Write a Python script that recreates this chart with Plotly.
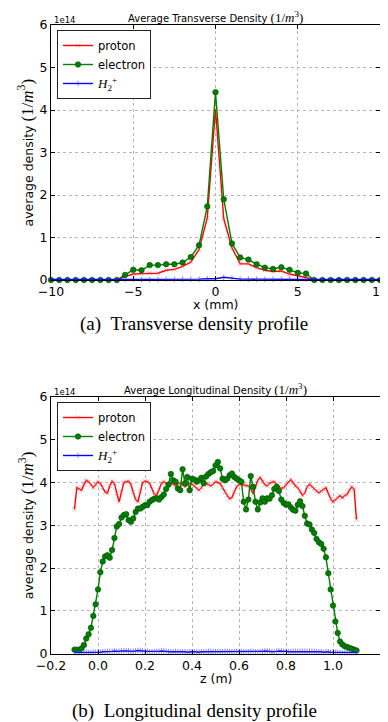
import plotly.graph_objects as go

# ---------------- data (values in units of 1e14 m^-3) ----------------
x_mm = [-10.0, -9.5, -9.0, -8.5, -8.0, -7.5, -7.0, -6.5, -6.0, -5.5, -5.0, -4.5, -4.0, -3.5,
        -3.0, -2.5, -2.0, -1.5, -1.0, -0.5, 0.0, 0.5, 1.0, 1.5, 2.0, 2.5, 3.0, 3.5, 4.0, 4.5,
        5.0, 5.5, 6.0, 6.5, 7.0, 7.5, 8.0, 8.5, 9.0, 9.5, 10.0]
proton_t = [0, 0, 0, 0, 0, 0, 0, 0, 0.0, 0.08, 0.14, 0.15, 0.16, 0.16, 0.23, 0.25, 0.32, 0.42,
            0.72, 1.46, 4.02, 1.44, 0.76, 0.38, 0.38, 0.29, 0.23, 0.20, 0.21, 0.14, 0.10, 0.06,
            0.0, 0, 0, 0, 0, 0, 0, 0, 0]
electron_t = [0, 0, 0, 0, 0, 0, 0, 0, 0.0, 0.12, 0.24, 0.23, 0.35, 0.35, 0.37, 0.37, 0.41, 0.54,
              0.82, 1.73, 4.42, 1.90, 0.86, 0.53, 0.48, 0.37, 0.29, 0.26, 0.30, 0.24, 0.17, 0.15,
              0.0, 0, 0, 0, 0, 0, 0, 0, 0]
h2_t = [0.01, 0.01, 0.01, 0.01, 0.01, 0.01, 0.01, 0.01, 0.01, 0.01, 0.015, 0.01, 0.01, 0.015,
        0.02, 0.015, 0.02, 0.02, 0.02, 0.03, 0.03, 0.065, 0.04, 0.02, 0.02, 0.02, 0.015, 0.02,
        0.02, 0.03, 0.02, 0.015, 0.01, 0.01, 0.01, 0.01, 0.01, 0.01, 0.01, 0.01, 0.01]

z_m = [-0.10, -0.09, -0.08, -0.07, -0.06, -0.05, -0.04, -0.03, -0.02, -0.01,
       0.00, 0.01, 0.02, 0.03, 0.04, 0.05, 0.06, 0.07, 0.08, 0.09,
       0.10, 0.11, 0.12, 0.13, 0.14, 0.15, 0.16, 0.17, 0.18, 0.19,
       0.20, 0.21, 0.22, 0.23, 0.24, 0.25, 0.26, 0.27, 0.28, 0.29,
       0.30, 0.31, 0.32, 0.33, 0.34, 0.35, 0.36, 0.37, 0.38, 0.39,
       0.40, 0.41, 0.42, 0.43, 0.44, 0.45, 0.46, 0.47, 0.48, 0.49,
       0.50, 0.51, 0.52, 0.53, 0.54, 0.55, 0.56, 0.57, 0.58, 0.59,
       0.60, 0.61, 0.62, 0.63, 0.64, 0.65, 0.66, 0.67, 0.68, 0.69,
       0.70, 0.71, 0.72, 0.73, 0.74, 0.75, 0.76, 0.77, 0.78, 0.79,
       0.80, 0.81, 0.82, 0.83, 0.84, 0.85, 0.86, 0.87, 0.88, 0.89,
       0.90, 0.91, 0.92, 0.93, 0.94, 0.95, 0.96, 0.97, 0.98, 0.99,
       1.00, 1.01, 1.02, 1.03, 1.04, 1.05, 1.06, 1.07, 1.08, 1.09, 1.10]
proton_l = [3.38, 3.88, 3.85, 3.82, 3.95, 4.05, 4.02, 3.95, 3.88, 3.95,
            4.02, 3.98, 3.88, 3.78, 3.75, 3.92, 4.03, 3.98, 3.75, 3.55,
            3.78, 4.00, 4.02, 4.03, 3.95, 3.78, 3.60, 3.55, 3.80, 4.00,
            4.03, 4.02, 3.98, 3.85, 3.72, 3.70, 3.82, 3.98, 4.02, 3.98,
            3.95, 3.98, 3.96, 3.92, 3.97, 3.99, 3.95, 3.90, 3.93, 3.98,
            3.96, 3.92, 3.86, 3.82, 3.88, 3.95, 3.98, 3.95, 3.92, 3.96,
            4.02, 4.00, 3.98, 3.88, 3.78, 3.70, 3.62, 3.65, 3.78, 3.90,
            3.95, 3.96, 3.94, 3.93, 3.92, 3.85, 3.74, 3.90, 4.05, 4.12,
            4.02, 3.95, 3.92, 3.98, 4.01, 4.02, 3.96, 3.92, 3.86, 3.88,
            3.95, 4.02, 4.07, 4.00, 3.92, 3.88, 3.80, 3.70, 3.75, 3.90,
            3.96, 3.90, 3.85, 3.80, 3.76, 3.80, 3.84, 3.88, 3.75, 3.62,
            3.54, 3.60, 3.65, 3.69, 3.64, 3.70, 3.72, 3.82, 3.90, 3.84, 3.14]
electron_l = [0.09, 0.09, 0.08, 0.12, 0.20, 0.35, 0.45, 0.60, 0.88, 1.15,
              1.50, 1.90, 2.15, 2.27, 2.30, 2.24, 2.42, 2.70, 2.97, 3.03,
              3.18, 3.24, 3.26, 3.12, 3.08, 3.16, 3.31, 3.39, 3.39, 3.43,
              3.47, 3.47, 3.55, 3.59, 3.62, 3.63, 3.60, 3.66, 3.72, 3.85,
              3.95, 4.20, 4.05, 4.02, 3.86, 3.82, 4.31, 3.98, 4.13, 3.82,
              4.09, 4.07, 4.02, 4.05, 4.11, 3.98, 4.14, 4.20, 4.24, 4.27,
              4.40, 4.48, 4.33, 4.09, 4.05, 4.09, 4.17, 4.21, 4.13, 4.09,
              4.05, 4.02, 3.55, 3.37, 3.60, 4.15, 3.90, 3.55, 3.37, 3.53,
              3.63, 3.55, 3.63, 3.62, 3.70, 3.85, 3.90, 3.80, 3.60, 3.52,
              3.48, 3.49, 3.42, 3.36, 3.34, 3.48, 3.56, 3.45, 3.22, 3.04,
              3.02, 2.90, 2.82, 2.68, 2.60, 2.56, 2.45, 2.25, 1.88, 1.50,
              1.12, 0.75, 0.48, 0.28, 0.21, 0.17, 0.15, 0.13, 0.11, 0.09, 0.07]
h2_l = [0.02, 0.02, 0.02, 0.02, 0.02, 0.03, 0.02, 0.02, 0.03, 0.03,
        0.03, 0.03, 0.04, 0.04, 0.05, 0.05, 0.05, 0.06, 0.05, 0.05,
        0.06, 0.06, 0.07, 0.06, 0.05, 0.05, 0.06, 0.07, 0.07, 0.06,
        0.05, 0.05, 0.04, 0.04, 0.04, 0.05, 0.05, 0.06, 0.06, 0.05,
        0.04, 0.04, 0.04, 0.05, 0.04, 0.04, 0.04, 0.04, 0.03, 0.04,
        0.04, 0.04, 0.03, 0.03, 0.04, 0.04, 0.04, 0.05, 0.05, 0.04,
        0.04, 0.04, 0.04, 0.04, 0.05, 0.05, 0.04, 0.04, 0.04, 0.05,
        0.05, 0.05, 0.04, 0.04, 0.04, 0.05, 0.05, 0.04, 0.04, 0.04,
        0.05, 0.06, 0.06, 0.05, 0.04, 0.04, 0.05, 0.06, 0.06, 0.05,
        0.05, 0.04, 0.04, 0.05, 0.05, 0.05, 0.05, 0.05, 0.05, 0.05,
        0.05, 0.05, 0.05, 0.04, 0.04, 0.04, 0.03, 0.04, 0.04, 0.03,
        0.03, 0.03, 0.03, 0.02, 0.02, 0.02, 0.02, 0.02, 0.02, 0.02, 0.02]

y_ticks = [0, 1, 2, 3, 4, 5, 6]
x_ticks_t = [-10, -5, 0, 5, 10]
z_ticks = [-0.2, 0.0, 0.2, 0.4, 0.6, 0.8, 1.0]

# ---------------- layout geometry (pixels, in the 388x722 window) ----------------
OFF = 8                      # default page (body) margin of the html page
W, H = 388 - OFF, 722 - OFF  # figure size so that it ends at the window edges
L, R = 51, 380
T1, B1 = 25, 280
T2, B2 = 397, 653.5

def px(x):
    return (x - OFF) / W

def py(y):
    return 1 - (y - OFF) / H

SANS = "DejaVu Sans"
SERIF = "Liberation Serif"
RED, GREEN, BLUE = "#ff0000", "#007f00", "#0000ff"

def math(size):
    return ("<span style='font-family:%s;font-size:%dpx'>(1/<i>m</i><sup>3</sup>)</span>"
            % (SERIF, size))

H2 = "<span style='font-family:%s;font-size:13px'><i>H</i><sub>2</sub><sup>+</sup></span>" % SERIF

fig = go.Figure()

def add_series(xs, p, e, h, xa, ya, leg):
    fig.add_trace(go.Scatter(x=xs, y=p, mode="lines+markers", name="proton",
                             line=dict(color=RED, width=1.4),
                             marker=dict(symbol="x-thin", size=4, color="rgba(255,80,80,0.55)",
                                         line=dict(width=1, color="rgba(255,80,80,0.55)")),
                             xaxis=xa, yaxis=ya, legend=leg, cliponaxis=False))
    fig.add_trace(go.Scatter(x=xs, y=e, mode="lines+markers", name="electron",
                             line=dict(color=GREEN, width=1.4),
                             marker=dict(symbol="circle", size=5.5, color=GREEN,
                                         line=dict(width=0.6, color="#004d00")),
                             xaxis=xa, yaxis=ya, legend=leg, cliponaxis=False))
    fig.add_trace(go.Scatter(x=xs, y=h, mode="lines+markers", name=H2,
                             line=dict(color=BLUE, width=1.4),
                             marker=dict(symbol="line-ns", size=4,
                                         line=dict(width=1, color="rgba(60,60,255,0.6)")),
                             xaxis=xa, yaxis=ya, legend=leg, cliponaxis=False))

add_series(x_mm, proton_t, electron_t, h2_t, "x", "y", "legend")
add_series(z_m, proton_l, electron_l, h2_l, "x2", "y2", "legend2")

axis_common = dict(showline=True, linecolor="black", linewidth=1, mirror="ticks",
                   ticks="inside", ticklen=4, tickcolor="black", tickwidth=1,
                   showgrid=True, gridcolor="#b5b5b5", griddash="dot", gridwidth=1,
                   zeroline=False, automargin=False,
                   tickfont=dict(family=SANS, size=12.5, color="black"))

legend_common = dict(xanchor="left", yanchor="top", bgcolor="white", bordercolor="#222",
                     borderwidth=1, font=dict(family=SANS, size=11.5, color="black"),
                     tracegroupgap=0, itemwidth=30)

fig.update_layout(
    width=W, height=H, margin=dict(l=0, r=0, t=0, b=0, pad=0),
    paper_bgcolor="white", plot_bgcolor="white", showlegend=True,
    xaxis=dict(domain=[px(L), px(R)], range=[-10, 10], tickvals=x_ticks_t,
               anchor="y", **axis_common),
    yaxis=dict(domain=[py(B1), py(T1)], range=[0, 6], tickvals=y_ticks,
               anchor="x", **axis_common),
    xaxis2=dict(domain=[px(L), px(R)], range=[-0.2, 1.2], tickvals=z_ticks,
                tickformat=".1f", anchor="y2", **axis_common),
    yaxis2=dict(domain=[py(B2), py(T2)], range=[0, 6], tickvals=y_ticks,
                anchor="x2", **axis_common),
    legend=dict(x=px(57), y=py(30), **legend_common),
    legend2=dict(x=px(57), y=py(T2 + 5), **legend_common),
)

ann = []
def text(x, y, s, size, family=SANS, angle=0, xanchor="center"):
    ann.append(dict(x=px(x), y=py(y), xref="paper", yref="paper", text=s, showarrow=False,
                    font=dict(family=family, size=size, color="black"), textangle=angle,
                    xanchor=xanchor, yanchor="middle"))

cx = (L + R) / 2
text(cx, 17, "Average Transverse Density " + math(13), 10)
text(cx, 389, "Average Longitudinal Density " + math(13), 10)
text(52, 20, "1e14", 8.5, xanchor="left")
text(52, 392, "1e14", 8.5, xanchor="left")
text(26, (T1 + B1) / 2, "average density " + math(17), 12.5, angle=-90)
text(26, (T2 + B2) / 2, "average density " + math(17), 12.5, angle=-90)
text(cx, 304, "x (mm)", 12.5)
text(cx, 678, "z (m)", 12.5)
text(194, 324, "(a)\u2002Transverse density profile", 19, family=SERIF)
text(194, 711, "(b)\u2002Longitudinal density profile", 19, family=SERIF)
fig.update_layout(annotations=ann)

fig.write_html("out.html")
